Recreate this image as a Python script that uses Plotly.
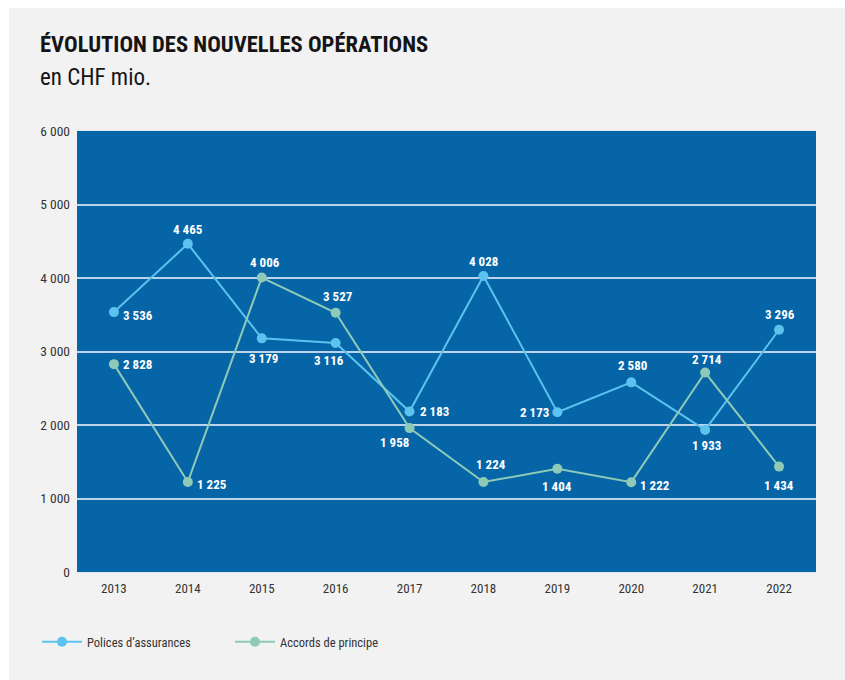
import plotly.graph_objects as go

years = ["2013", "2014", "2015", "2016", "2017", "2018", "2019", "2020", "2021", "2022"]
polices = [3536, 4465, 3179, 3116, 2183, 4028, 2173, 2580, 1933, 3296]
accords = [2828, 1225, 4006, 3527, 1958, 1224, 1404, 1222, 2714, 1434]

# label offsets from each marker, in pixels (dx right, dy up)
polices_off = [(24, -3), (0, 14), (2, -20), (-7, -18), (25, 0),
               (0, 14), (-23, 0), (1, 17), (1, -16), (1, 15)]
accords_off = [(24, 0), (24, -3), (3, 15), (2, 16), (-15, -14),
               (8, 18), (0, -18), (24, -3), (2, 13), (0, -19)]

FONT = "Roboto Condensed, Roboto, sans-serif"
C_POL = "#5cc3ef"
C_ACC = "#8ecab7"
GRID = "rgba(220,232,245,0.85)"


def fmt(v):
    return f"{v:,}".replace(",", " ")


fig = go.Figure()
fig.add_trace(go.Scatter(
    x=years, y=polices, name="Polices d\u2019assurances", mode="lines+markers",
    line=dict(color=C_POL, width=2), marker=dict(size=10, color=C_POL),
))
fig.add_trace(go.Scatter(
    x=years, y=accords, name="Accords de principe", mode="lines+markers",
    line=dict(color=C_ACC, width=2), marker=dict(size=10, color=C_ACC),
))

# value labels; on a category axis, annotations are placed by category index
labels = []
for series, offs in ((polices, polices_off), (accords, accords_off)):
    for i, (v, (dx, dy)) in enumerate(zip(series, offs)):
        labels.append(dict(x=i, y=v, xref="x", yref="y", text=fmt(v), showarrow=False,
                           xshift=dx, yshift=dy, xanchor="center", yanchor="middle",
                           font=dict(family=FONT, size=13, color="white", weight="bold")))

fig.update_layout(
    width=845, height=680,
    margin=dict(l=77, r=29, t=131, b=108),
    paper_bgcolor="#f2f2f2", plot_bgcolor="#0565a7",
    separators=", ",
    font=dict(family=FONT, size=13, color="#333333"),
    showlegend=True,
    legend=dict(orientation="h", x=(37 - 77) / 739, xanchor="left", y=-0.125, yanchor="top",
                font=dict(family=FONT, size=12.5, color="#333333"),
                itemwidth=40, entrywidth=138, entrywidthmode="pixels", bgcolor="rgba(0,0,0,0)"),
    xaxis=dict(type="category", range=[-0.5, 9.5], showgrid=False, zeroline=False,
               showline=True, mirror=True, linecolor=GRID, linewidth=1,
               ticks="", ticklabelstandoff=4,
               tickfont=dict(family=FONT, size=13, color="#333333")),
    yaxis=dict(range=[0, 6000], dtick=1000, tickformat=",", showgrid=True,
               gridcolor=GRID, gridwidth=1.5, zeroline=False,
               ticks="", ticklabelstandoff=6,
               tickfont=dict(family=FONT, size=13.5, color="#333333")),
    shapes=[
        dict(type="rect", xref="paper", yref="paper", x0=-0.2, x1=1.1,
             y0=(572 - 8) / 441, y1=1.5, fillcolor="white", line=dict(width=0), layer="above"),
        dict(type="rect", xref="paper", yref="paper", x0=-0.2, x1=(9 - 77) / 739,
             y0=-0.5, y1=1.5, fillcolor="white", line=dict(width=0), layer="above"),
    ],
    annotations=labels + [
        dict(text="<b>\u00c9VOLUTION DES NOUVELLES OP\u00c9RATIONS</b>", xref="paper", yref="paper",
             x=(38 - 77) / 739, y=(572 - 29) / 441, xanchor="left", yanchor="top", showarrow=False,
             font=dict(family=FONT, size=22.6, color="#151515")),
        dict(text="en CHF mio.", xref="paper", yref="paper",
             x=(38 - 77) / 739, y=(572 - 62) / 441, xanchor="left", yanchor="top", showarrow=False,
             font=dict(family=FONT, size=23, color="#151515")),
    ],
)

fig.write_html("out.html")
